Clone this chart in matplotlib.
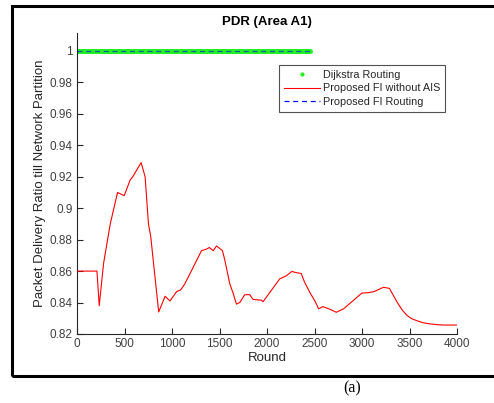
import numpy as np
import matplotlib
matplotlib.use("Agg")
import matplotlib.pyplot as plt
from matplotlib.patches import Rectangle
from matplotlib.lines import Line2D

plt.rcParams['font.family'] = ['Liberation Sans', 'DejaVu Sans']

# Data
dij_rounds = np.arange(0, 2451, 12)
dij_pdr = np.ones_like(dij_rounds, dtype=float)
fi_rounds = [0, 2450]
fi_pdr = [1.0, 1.0]

noais_rounds = [0, 210, 234, 280, 350, 427, 497, 560, 587, 675, 717, 752, 776, 860,
                927, 979, 1014, 1049, 1091, 1136, 1311, 1364, 1392, 1434, 1469, 1531,
                1556, 1608, 1643, 1678, 1713, 1766, 1818, 1853, 1941, 1958, 2133, 2203,
                2262, 2308, 2360, 2395, 2455, 2508, 2543, 2588, 2665, 2729, 2806, 2998,
                3068, 3128, 3226, 3289, 3366, 3420, 3471, 3520, 3576, 3640, 3716, 3800,
                3856, 3996]
noais_pdr = [0.860, 0.860, 0.838, 0.865, 0.890, 0.910, 0.908, 0.918, 0.920, 0.929, 0.920,
             0.890, 0.882, 0.834, 0.844, 0.841, 0.844, 0.847, 0.848, 0.852, 0.873, 0.874,
             0.875, 0.873, 0.876, 0.873, 0.867, 0.852, 0.846, 0.839, 0.840, 0.845, 0.845,
             0.842, 0.8415, 0.8405, 0.855, 0.857, 0.8598, 0.859, 0.8585, 0.853, 0.846,
             0.8406, 0.836, 0.8374, 0.8357, 0.8338, 0.836, 0.846, 0.8463, 0.847, 0.8497,
             0.849, 0.8406, 0.8355, 0.832, 0.8298, 0.8285, 0.8272, 0.8264, 0.8259,
             0.8257, 0.8257]

xticks = [0, 500, 1000, 1500, 2000, 2500, 3000, 3500, 4000]
yticks = [0.82, 0.84, 0.86, 0.88, 0.9, 0.92, 0.94, 0.96, 0.98, 1.0]
ytick_labels = ['0.82', '0.84', '0.86', '0.88', '0.9', '0.92', '0.94', '0.96', '0.98', '1']

W, H = 494, 403
fig = plt.figure(figsize=(W / 100, H / 100), dpi=100)
fig.patch.set_facecolor('white')

ax = fig.add_axes([77 / W, 1 - 334 / H, (457 - 77) / W, (334 - 33) / H])

ax.plot(dij_rounds, dij_pdr, linestyle='none', marker='.', color='#22ee22',
        markersize=5, label='Dijkstra Routing', zorder=2)
ax.plot(noais_rounds, noais_pdr, color='#ff0000', linewidth=0.8,
        label='Proposed FI without AIS', zorder=3)
ax.plot(fi_rounds, fi_pdr, color='#0000ff', linestyle=(0, (4, 3)), linewidth=0.9,
        alpha=0.6, label='Proposed FI Routing', zorder=4)

ax.set_xlim(0, 4000)
ax.set_ylim(0.82, 1.0114)
ax.set_xticks(xticks)
ax.set_xticklabels([str(t) for t in xticks])
ax.set_yticks(yticks)
ax.set_yticklabels(ytick_labels)

for s in ['top', 'right']:
    ax.spines[s].set_visible(False)
for s in ['left', 'bottom']:
    ax.spines[s].set_color('#262626')
    ax.spines[s].set_linewidth(0.8)
ax.tick_params(direction='in', length=4, width=0.8, color='#262626',
               labelsize=8.5, labelcolor='#404040', pad=3)

ax.set_title('PDR (Area A1)', fontsize=9.5, fontweight='bold', pad=6, color='black')
ax.set_xlabel('Round', fontsize=9.5, color='#262626', labelpad=1)
ax.set_ylabel('Packet Delivery Ratio till Network Partition', fontsize=9.5,
              color='#262626', labelpad=3)

handles = [
    Line2D([], [], linestyle='none', marker='.', color='#22ee22', markersize=4),
    Line2D([], [], color='#ff0000', linewidth=0.8),
    Line2D([], [], color='#0000ff', linestyle=(0, (4, 3)), linewidth=0.9),
]
labels = ['Dijkstra Routing', 'Proposed FI without AIS', 'Proposed FI Routing']
leg = ax.legend(handles, labels, loc='upper left',
                bbox_to_anchor=((279 - 77) / (457 - 77), (334 - 65) / (334 - 33)),
                fontsize=7.8, frameon=True, fancybox=False, edgecolor='#262626',
                handlelength=3.3, handletextpad=0.3, borderpad=0.45,
                labelspacing=0.32, borderaxespad=0)
leg.get_frame().set_linewidth(0.8)
for t in leg.get_texts():
    t.set_color('#262626')

# outer frame
fig.add_artist(Rectangle((12 / W, 1 - 376 / H), 1.0, (376 - 6) / H,
                         transform=fig.transFigure, fill=False,
                         edgecolor='black', linewidth=2.2, clip_on=False))

fig.text(352 / W, 1 - 388 / H, '(a)', fontsize=11.5, ha='center', va='center',
         family=['Liberation Serif', 'DejaVu Serif'])

fig.savefig('out.png', dpi=100)
